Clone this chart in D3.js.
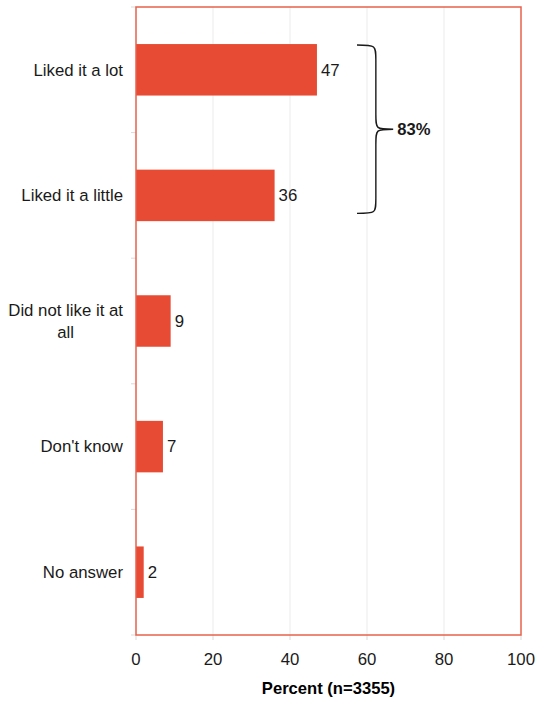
<!DOCTYPE html>
<html><head><meta charset="utf-8">
<script src="https://cdn.jsdelivr.net/npm/d3@7"></script>
<style>body{margin:0;background:#fff}svg{display:block}text{font-family:"Liberation Sans",Arial,sans-serif}</style>
</head><body>
<script>
const categories = ["Liked it a lot", "Liked it a little", "Did not like it at all", "Don't know", "No answer"];
const labelLines = [["Liked it a lot"], ["Liked it a little"], ["Did not like it at", "all"], ["Don't know"], ["No answer"]];
const values = [47, 36, 9, 7, 2];
const xTicks = [0, 20, 40, 60, 80, 100];
const xTitle = "Percent (n=3355)";
const bracketLabel = "83%";

const W = 537, H = 702;
const m = {left: 136, right: 16, top: 7, bottom: 67};
const svg = d3.select("body").append("svg").attr("width", W).attr("height", H);

const x = d3.scaleLinear().domain([0, 100]).range([m.left, W - m.right]);
const y = d3.scaleBand().domain(categories).range([m.top, H - m.bottom]).paddingInner(0.59).paddingOuter(0.295);

// grid
svg.append("g").selectAll("line").data(xTicks.filter(d => d > 0 && d < 100)).join("line")
  .attr("x1", d => x(d)).attr("x2", d => x(d)).attr("y1", m.top).attr("y2", H - m.bottom)
  .attr("stroke", "#ebebeb").attr("stroke-width", 1);

// category boundary ticks
const step = y.step();
const bounds = d3.range(categories.length + 1).map(i => m.top + i * step);
svg.append("g").selectAll("line").data(bounds).join("line")
  .attr("x1", m.left - 5).attr("x2", m.left).attr("y1", d => d).attr("y2", d => d)
  .attr("stroke", "#d9d9d9").attr("stroke-width", 1);

// x ticks
svg.append("g").selectAll("line").data(xTicks).join("line")
  .attr("x1", d => x(d)).attr("x2", d => x(d)).attr("y1", H - m.bottom).attr("y2", H - m.bottom + 5)
  .attr("stroke", "#d9d9d9").attr("stroke-width", 1);

// bars
svg.append("g").selectAll("rect").data(values).join("rect")
  .attr("x", x(0)).attr("y", (d, i) => y(categories[i]))
  .attr("width", d => x(d) - x(0)).attr("height", y.bandwidth())
  .attr("fill", "#E84B33");

// value labels
svg.append("g").selectAll("text").data(values).join("text")
  .attr("x", d => x(d) + 4).attr("y", (d, i) => y(categories[i]) + y.bandwidth() / 2)
  .attr("dy", "0.35em").attr("font-size", 16.8).attr("fill", "#1a1a1a").text(d => d);

// category labels (multi-line centered block, right aligned)
const lab = svg.append("g");
labelLines.forEach((lines, i) => {
  const cy = y(categories[i]) + y.bandwidth() / 2;
  const lh = 22;
  const g = lab.append("g");
  const texts = lines.map((t, j) => g.append("text")
    .attr("y", cy + (j - (lines.length - 1) / 2) * lh).attr("dy", "0.35em")
    .attr("font-size", 16.8).attr("fill", "#1a1a1a").attr("text-anchor", "middle").text(t));
  const maxW = d3.max(texts, t => t.node().getComputedTextLength());
  texts.forEach(t => t.attr("x", m.left - 13 - maxW / 2));
});

// frame
svg.append("rect").attr("x", m.left).attr("y", m.top)
  .attr("width", x(100) - x(0)).attr("height", H - m.bottom - m.top)
  .attr("fill", "none").attr("stroke", "#E8604C").attr("stroke-width", 1.5);

// x tick labels
svg.append("g").selectAll("text").data(xTicks).join("text")
  .attr("x", d => x(d)).attr("y", 665).attr("text-anchor", "middle")
  .attr("font-size", 16.8).attr("fill", "#1a1a1a").text(d => d);

// axis title
svg.append("text").attr("x", (x(0) + x(100)) / 2).attr("y", 694).attr("text-anchor", "middle")
  .attr("font-size", 16.6).attr("font-weight", "bold").attr("fill", "#000").text(xTitle);

// bracket
const bTop = y(categories[0]) + 1;
const bBot = y(categories[1]) + y.bandwidth() * 0.85;
const bMid = (bTop + bBot) / 2;
const xa = x(57.4), xb = x(62.3), xc = x(66.8);
const r = 15;
const path = `M${xa},${bTop} C${xb},${bTop} ${xb},${bTop} ${xb},${bTop + r}
 L${xb},${bMid - r} C${xb},${bMid} ${xb},${bMid} ${xc},${bMid}
 C${xb},${bMid} ${xb},${bMid} ${xb},${bMid + r}
 L${xb},${bBot - r} C${xb},${bBot} ${xb},${bBot} ${xa},${bBot}`;
svg.append("path").attr("d", path).attr("fill", "none").attr("stroke", "#1a1a1a").attr("stroke-width", 1.4);
svg.append("text").attr("x", xc + 4).attr("y", bMid).attr("dy", "0.35em")
  .attr("font-size", 16.6).attr("font-weight", "bold").attr("fill", "#1a1a1a").text(bracketLabel);
</script>
</body></html>
